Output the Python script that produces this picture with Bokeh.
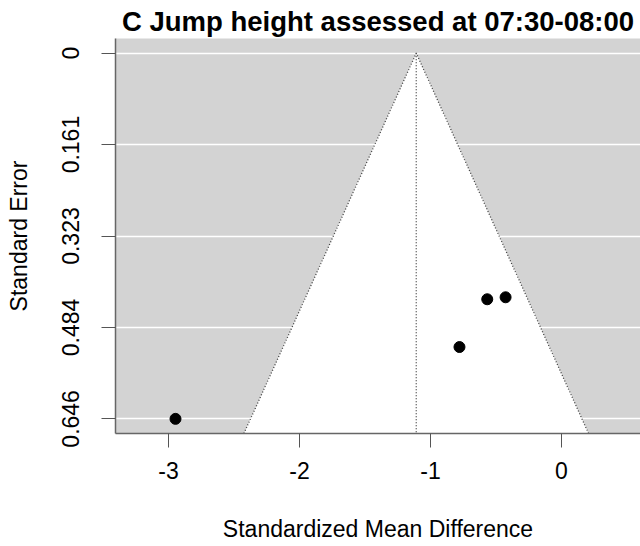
import math
from bokeh.plotting import figure
from bokeh.models import Range1d, FixedTicker, ColumnDataSource
from bokeh.embed import file_html
from bokeh.resources import INLINE

# ---- data ----
smd = [-2.947, -0.779, -0.567, -0.427]          # Standardized Mean Difference
se = [0.6455, 0.5187, 0.4344, 0.4309]           # Standard Error
pooled_smd = -1.109                              # pooled estimate (funnel centre)
x_ticks = [-3, -2, -1, 0]
x_tick_labels = ["-3", "-2", "-1", "0"]
y_ticks = [0, 0.1614, 0.3228, 0.4841, 0.6455]
y_tick_labels = ["0", "0.161", "0.323", "0.484", "0.646"]
title_text = "C Jump height assessed at 07:30-08:00"

se_max = max(se)
y_bottom = se_max * 1.04
y_top = -se_max * 0.04
x_left, x_right = -3.405, 0.603

FONT = "Liberation Sans"

p = figure(width=640, height=546, output_backend="svg", toolbar_location=None,
           x_range=Range1d(x_left, x_right), y_range=Range1d(y_bottom, y_top),
           min_border_left=115, min_border_right=0, min_border_top=38,
           min_border_bottom=113)

p.background_fill_color = "#d3d3d3"
p.border_fill_color = "white"
p.outline_line_color = None

# grid: white horizontal lines only
p.xgrid.grid_line_color = None
p.ygrid.grid_line_color = "white"
p.ygrid.grid_line_width = 1.5
p.ygrid.ticker = FixedTicker(ticks=y_ticks)

# funnel (white inside)
fx = [pooled_smd - 1.96 * y_bottom, pooled_smd, pooled_smd + 1.96 * y_bottom]
fy = [y_bottom, 0, y_bottom]
p.patch(fx, fy, fill_color="white", line_color=None, level="underlay")
p.line(fx, fy, line_color="#444444", line_width=1.3, line_dash="1 2")
p.line([pooled_smd, pooled_smd], [0, y_bottom], line_color="#444444",
       line_width=1.3, line_dash="1 2")

src = ColumnDataSource(dict(x=smd, y=se))
p.scatter("x", "y", source=src, size=11, color="black")

# axes
for ax in (p.xaxis[0], p.yaxis[0]):
    ax.axis_line_color = "#666666"
    ax.axis_line_width = 1.5
    ax.major_tick_line_color = "#555555"
    ax.major_tick_line_width = 1
    ax.major_tick_out = 14
    ax.major_tick_in = 0
    ax.minor_tick_line_color = None
    ax.major_label_text_font = FONT
    ax.major_label_text_font_size = "23px"
    ax.major_label_text_color = "black"
    ax.axis_label_text_font = FONT
    ax.axis_label_text_font_size = "23px"
    ax.axis_label_text_font_style = "normal"
    ax.axis_label_text_color = "black"

p.xaxis.ticker = FixedTicker(ticks=x_ticks)
p.xaxis.major_label_overrides = {t: l for t, l in zip(x_ticks, x_tick_labels)}
p.xaxis.axis_label = "Standardized Mean Difference"
p.xaxis.major_label_standoff = 14
p.xaxis.axis_label_standoff = 34

p.yaxis.ticker = FixedTicker(ticks=y_ticks)
p.yaxis.major_label_overrides = {t: l for t, l in zip(y_ticks, y_tick_labels)}
p.yaxis.major_label_orientation = "vertical"
p.yaxis.axis_label = "Standard Error"
p.yaxis.major_label_standoff = 22
p.yaxis.axis_label_standoff = 28

p.title.text = title_text
p.title.align = "center"
p.title.text_font = FONT
p.title.text_font_size = "27.5px"
p.title.text_font_style = "bold"
p.title.text_color = "black"
p.title.standoff = 4
p.title.offset = 0

open("out.html", "w").write(file_html(p, INLINE))
